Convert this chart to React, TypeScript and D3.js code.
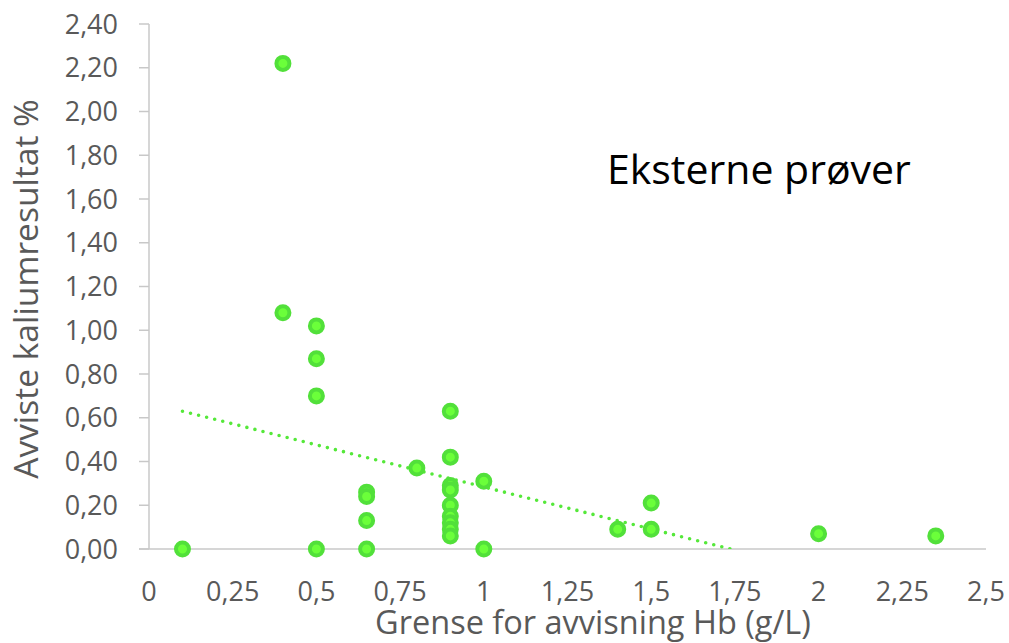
import React from "react";
import * as d3 from "d3";

const xValues = [0.1, 0.4, 0.4, 0.5, 0.5, 0.5, 0.5, 0.65, 0.65, 0.65, 0.65, 0.8, 0.9, 0.9, 0.9, 0.9, 0.9, 0.9, 0.9, 0.9, 0.9, 1.0, 1.0, 1.4, 1.5, 1.5, 2.0, 2.35];
const yValues = [0, 2.22, 1.08, 1.02, 0.87, 0.7, 0, 0.26, 0.24, 0.13, 0, 0.37, 0.63, 0.42, 0.29, 0.27, 0.2, 0.15, 0.12, 0.09, 0.06, 0.31, 0, 0.09, 0.21, 0.09, 0.07, 0.06];
const trendX = [0.1, 2.35];
const trendY = [0.63, -0.236];
const yTicks = [0, 0.2, 0.4, 0.6, 0.8, 1.0, 1.2, 1.4, 1.6, 1.8, 2.0, 2.2, 2.4];
const xTicks = [0, 0.25, 0.5, 0.75, 1, 1.25, 1.5, 1.75, 2, 2.25, 2.5];
const xTitle = "Grense for avvisning Hb (g/L)";
const yTitle = "Avviste kaliumresultat %";
const chartTitle = "Eksterne prøver";

const W = 1009;
const H = 643;
const FONT = "'Open Sans', sans-serif";

export default function App() {
  const x = d3.scaleLinear().domain([0, 2.5]).range([149, 986]);
  const y = d3.scaleLinear().domain([0, 2.4]).range([549, 24]);
  const fmtY = (v: number) => d3.format(".2f")(v).replace(".", ",");
  const fmtX = (v: number) => String(v).replace(".", ",");
  const line = d3
    .line<number>()
    .x((_, i) => x(trendX[i]))
    .y((d) => y(d));
  const pts = xValues.map((v, i) => [v, yValues[i]]);
  return (
    <svg
      width={W}
      height={H}
      style={{ position: "absolute", left: 0, top: 0, display: "block", background: "#fff" }}
      fontFamily={FONT}
    >
      <defs>
        <clipPath id="plot">
          <rect x={x(0)} y={y(2.4)} width={x(2.5) - x(0)} height={y(0) - y(2.4)} />
        </clipPath>
      </defs>
      {/* y axis */}
      <line x1={x(0)} x2={x(0)} y1={y(2.4)} y2={y(0)} stroke="#c8c8c8" strokeWidth={1.5} />
      {yTicks.map((t) => (
        <g key={t}>
          <line x1={x(0) - 10} x2={x(0)} y1={y(t)} y2={y(t)} stroke="#c8c8c8" strokeWidth={1.5} />
          <text x={118} y={y(t)} dy="0.36em" textAnchor="end" fontSize={27} fill="#595959">
            {fmtY(t)}
          </text>
        </g>
      ))}
      {/* x axis */}
      <line x1={x(0) - 10} x2={x(2.5)} y1={y(0)} y2={y(0)} stroke="#c8c8c8" strokeWidth={1.5} />
      {xTicks.map((t) => (
        <text key={t} x={x(t)} y={601} textAnchor="middle" fontSize={27} fill="#595959">
          {fmtX(t)}
        </text>
      ))}
      {/* trendline */}
      <g clipPath="url(#plot)">
        <path
          d={line(trendY) || ""}
          fill="none"
          stroke="#55E83A"
          strokeWidth={3.6}
          strokeLinecap="round"
          strokeDasharray="0 8.3"
        />
      </g>
      {/* points */}
      {pts.map(([a, b], i) => (
        <circle key={i} cx={x(a)} cy={y(b)} r={6.5} fill="#6BFF3A" stroke="#52E03A" strokeWidth={4} />
      ))}
      {/* titles */}
      <text x={593} y={634} textAnchor="middle" fontSize={32.5} fill="#595959">
        {xTitle}
      </text>
      <text
        transform={`translate(38, 289) rotate(-90)`}
        textAnchor="middle"
        fontSize={33.5}
        fill="#595959"
      >
        {yTitle}
      </text>
      <text x={607} y={184} fontSize={41} fill="#000">
        {chartTitle}
      </text>
    </svg>
  );
}
